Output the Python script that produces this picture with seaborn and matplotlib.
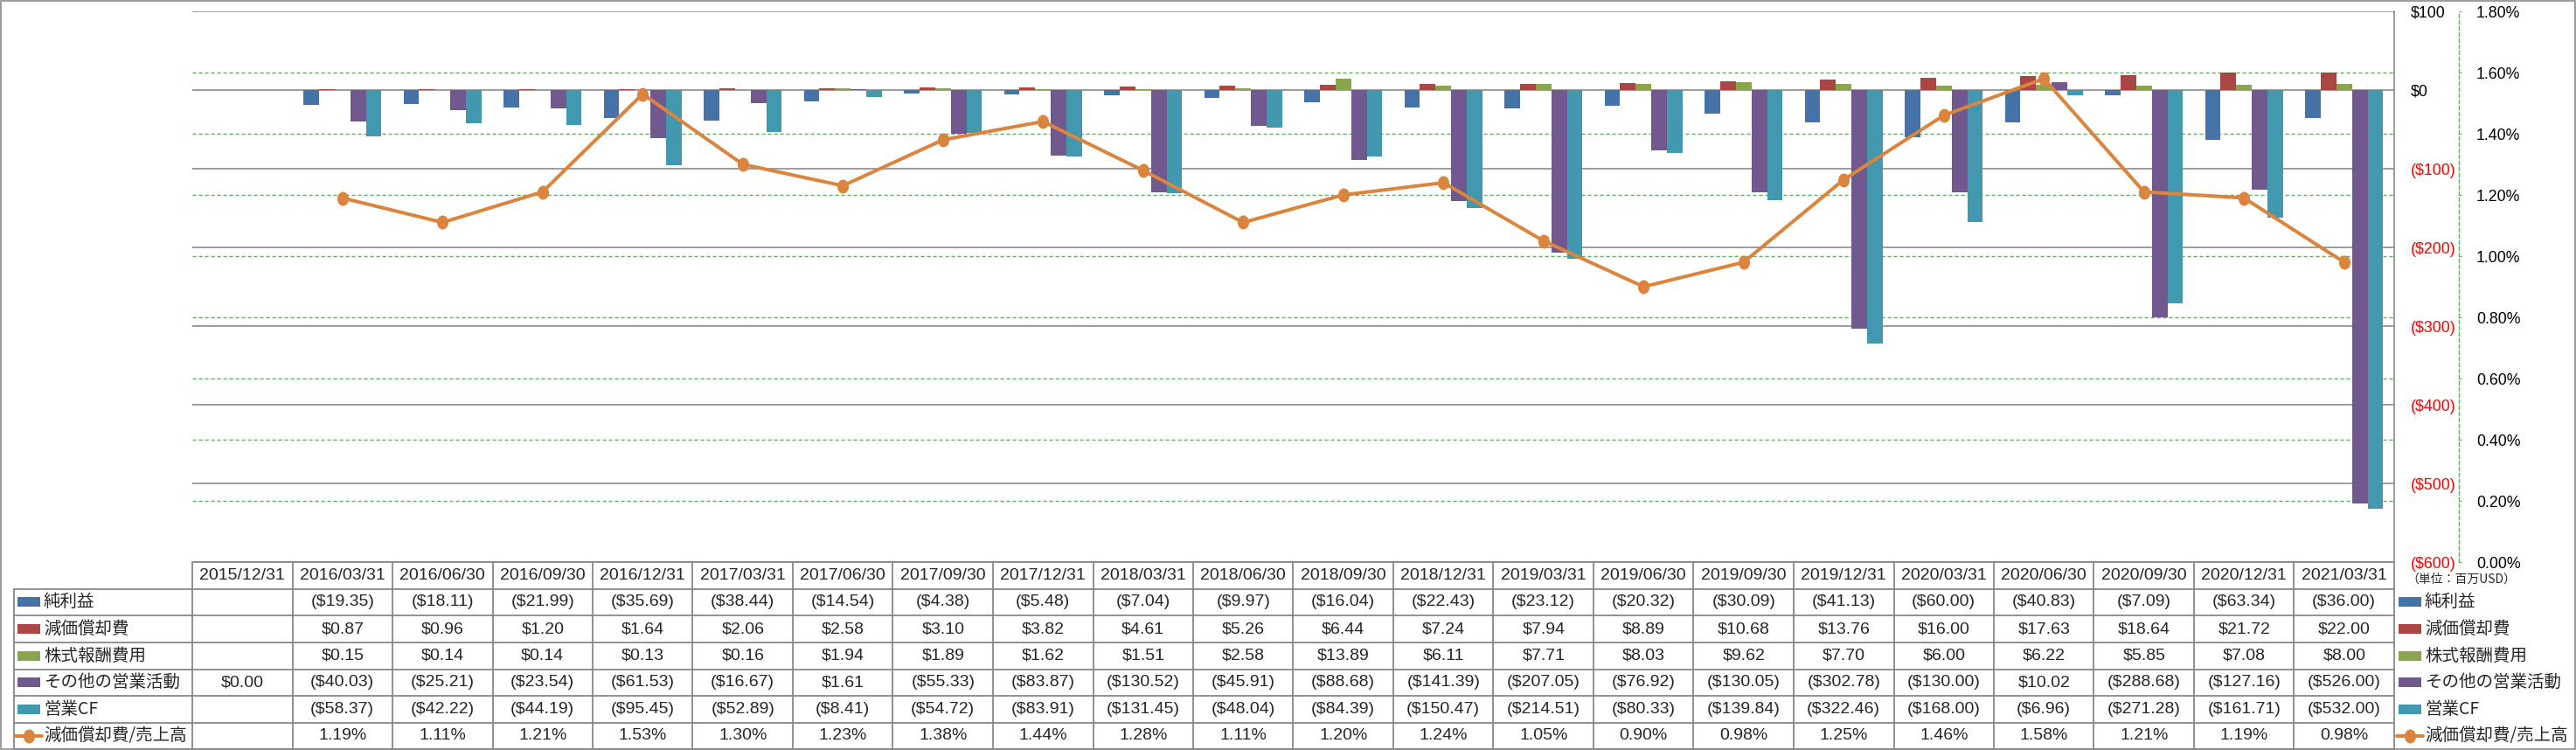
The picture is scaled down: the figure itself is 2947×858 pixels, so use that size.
import numpy as np
import pandas as pd
import matplotlib
matplotlib.use("Agg")
import matplotlib.pyplot as plt
import matplotlib.transforms as mtrans
from matplotlib.patches import Rectangle
from matplotlib.lines import Line2D
from matplotlib.path import Path
from matplotlib.ticker import FixedLocator
import seaborn as sns

# ---------------- data ----------------
dates = ["2015/12/31", "2016/03/31", "2016/06/30", "2016/09/30", "2016/12/31",
         "2017/03/31", "2017/06/30", "2017/09/30", "2017/12/31", "2018/03/31",
         "2018/06/30", "2018/09/30", "2018/12/31", "2019/03/31", "2019/06/30",
         "2019/09/30", "2019/12/31", "2020/03/31", "2020/06/30", "2020/09/30",
         "2020/12/31", "2021/03/31"]

series_names = ["純利益", "減価償却費", "株式報酬費用", "その他の営業活動", "営業CF"]

net_income = [np.nan, -19.35, -18.11, -21.99, -35.69, -38.44, -14.54, -4.38, -5.48,
              -7.04, -9.97, -16.04, -22.43, -23.12, -20.32, -30.09, -41.13, -60.00,
              -40.83, -7.09, -63.34, -36.00]
depreciation = [np.nan, 0.87, 0.96, 1.20, 1.64, 2.06, 2.58, 3.10, 3.82, 4.61, 5.26,
                6.44, 7.24, 7.94, 8.89, 10.68, 13.76, 16.00, 17.63, 18.64, 21.72, 22.00]
stock_comp = [np.nan, 0.15, 0.14, 0.14, 0.13, 0.16, 1.94, 1.89, 1.62, 1.51, 2.58,
              13.89, 6.11, 7.71, 8.03, 9.62, 7.70, 6.00, 6.22, 5.85, 7.08, 8.00]
other_ops = [0.00, -40.03, -25.21, -23.54, -61.53, -16.67, 1.61, -55.33, -83.87,
             -130.52, -45.91, -88.68, -141.39, -207.05, -76.92, -130.05, -302.78,
             -130.00, 10.02, -288.68, -127.16, -526.00]
operating_cf = [np.nan, -58.37, -42.22, -44.19, -95.45, -52.89, -8.41, -54.72, -83.91,
                -131.45, -48.04, -84.39, -150.47, -214.51, -80.33, -139.84, -322.46,
                -168.00, -6.96, -271.28, -161.71, -532.00]
series_values = [net_income, depreciation, stock_comp, other_ops, operating_cf]

ratio_name = "減価償却費/売上高"
ratio_pct = [np.nan, 1.19, 1.11, 1.21, 1.53, 1.30, 1.23, 1.38, 1.44, 1.28, 1.11,
             1.20, 1.24, 1.05, 0.90, 0.98, 1.25, 1.46, 1.58, 1.21, 1.19, 0.98]

usd_ticks = [100, 0, -100, -200, -300, -400, -500, -600]
pct_ticks = [0.0, 0.2, 0.4, 0.6, 0.8, 1.0, 1.2, 1.4, 1.6, 1.8]
unit_label = "（単位：百万USD）"

# ---------------- style ----------------
bar_colors = ["#4572A7", "#AA4643", "#89A54E", "#71588F", "#4198AF"]
line_color = "#DB843D"
gray = "#878787"
green = "#22DD22"

sns.set_theme(style="white")
plt.rcParams["font.family"] = ["Liberation Sans", "Noto Sans CJK JP", "DejaVu Sans"]
CJK = ["Noto Sans CJK JP", "Liberation Sans", "DejaVu Sans"]

W, H, DPI = 2947, 858, 100
PX = 72.0 / DPI  # points per pixel

fig = plt.figure(figsize=(W / DPI, H / DPI), dpi=DPI)
fig.patch.set_facecolor("white")

AX_L, AX_R, AX_T, AX_B = 220, 2739, 13, 643
ax = fig.add_axes([AX_L / W, 1 - AX_B / H, (AX_R - AX_L) / W, (AX_B - AX_T) / H])

# ---------------- bars ----------------
rows = []
for name, vals in zip(series_names, series_values):
    for d, v in zip(dates, vals):
        rows.append((d, name, v))
df = pd.DataFrame(rows, columns=["日付", "系列", "値"]).dropna()

sns.barplot(data=df, x="日付", y="値", hue="系列", order=dates, hue_order=series_names,
            palette=bar_colors, saturation=1, width=0.78, gap=0, errorbar=None,
            linewidth=0, legend=False, ax=ax)

# secondary axis (created before styling primary, since twinx moves ticks left)
ax2 = ax.twinx()

ax.set_xlim(-0.5, len(dates) - 0.5)
ax.set_ylim(-600, 100)
ax.set_xlabel("")
ax.set_ylabel("")
ax.set_xticks([])


def fmt_usd(v):
    if v < 0:
        return "(\\${:,.0f})".format(-v)
    return "\\${:,.0f}".format(v)


def fmt_cell(v):
    if v is None or (isinstance(v, float) and np.isnan(v)):
        return ""
    if v < 0:
        return "(\\${:,.2f})".format(-v)
    return "\\${:,.2f}".format(v)


ax.yaxis.tick_right()
ax.yaxis.set_label_position("right")
ax.set_yticks(usd_ticks)
ax.set_yticklabels([fmt_usd(t) for t in usd_ticks])
ax.tick_params(axis="y", which="major", length=0, pad=19 * PX, labelsize=12.8,
               left=False, labelleft=False, right=True, labelright=True)
for lbl, t in zip(ax.get_yticklabels(), usd_ticks):
    lbl.set_color("#FF0000" if t < 0 else "black")
# secondary (percent) grid drawn behind bars
ax.yaxis.set_minor_locator(FixedLocator([-600 + p / 1.8 * 700 for p in pct_ticks[1:-1]]))
ax.tick_params(axis="y", which="minor", length=0)
ax.grid(True, which="major", axis="y", color=gray, lw=1.6 * PX)
ax.grid(True, which="minor", axis="y", color=green, lw=1.4 * PX, ls=(0, (3, 2)))
ax.set_axisbelow(True)
for s in ["left", "bottom", "top"]:
    ax.spines[s].set_visible(False)
ax.spines["right"].set_color(gray)
ax.spines["right"].set_linewidth(1.6 * PX)

# ---------------- line on secondary axis ----------------
ell = Path.unit_circle().transformed(mtrans.Affine2D().scale(0.82, 1.0))
sns.lineplot(x=np.arange(len(dates)), y=ratio_pct, ax=ax2, color=line_color,
             lw=4 * PX, marker=ell, markersize=16 * PX, markeredgewidth=0,
             markerfacecolor=line_color)
ax2.set_xlim(-0.5, len(dates) - 0.5)
ax2.set_ylim(0, 1.8)
ax2.set_yticks(pct_ticks)
ax2.set_yticklabels(["{:.2f}%".format(p) for p in pct_ticks])
ax2.set_xticks([])
ax2.set_xlabel("")
ax2.set_ylabel("")
ax2.grid(False)
for s in ["left", "bottom", "top"]:
    ax2.spines[s].set_visible(False)
ax2.spines["right"].set_position(("outward", 74 * PX))
ax2.spines["right"].set_color(green)
ax2.spines["right"].set_linestyle((0, (3, 2)))
ax2.spines["right"].set_linewidth(1.4 * PX)
ax2.tick_params(axis="y", length=3 * PX, width=1.2 * PX, color=green, direction="out",
                pad=17 * PX, labelsize=12.8, labelcolor="black")

# ---------------- data table overlay ----------------
ov = fig.add_axes([0, 0, 1, 1], zorder=10)
ov.set_xlim(0, W)
ov.set_ylim(H, 0)
ov.axis("off")
ov.patch.set_alpha(0)
blend = mtrans.blended_transform_factory(ax.transData, ov.transData)

row_edges = [643, 673.5, 704, 735, 765.5, 796, 827, 857]
row_c = [(a + b) / 2 for a, b in zip(row_edges[:-1], row_edges[1:])]
tlw = 1.8 * PX

ov.add_line(Line2D([AX_L, AX_R], [row_edges[0]] * 2, color=gray, lw=tlw))
for y in row_edges[1:]:
    ov.add_line(Line2D([16, AX_R], [y, y], color=gray, lw=tlw))
ov.add_line(Line2D([16, 16], [row_edges[1], row_edges[-1]], color=gray, lw=tlw))
for i in range(len(dates) + 1):
    ov.add_line(Line2D([i - 0.5, i - 0.5], [row_edges[0], row_edges[-1]], color=gray,
                       lw=tlw, transform=blend))

num_fs = 14
for i, d in enumerate(dates):
    ov.text(i, row_c[0], d, transform=blend, ha="center", va="center", fontsize=num_fs)
for r, vals in enumerate(series_values):
    for i, v in enumerate(vals):
        ov.text(i, row_c[r + 1], fmt_cell(v), transform=blend, ha="center",
                va="center", fontsize=num_fs)
for i, v in enumerate(ratio_pct):
    if not np.isnan(v):
        ov.text(i, row_c[6], "{:.2f}%".format(v), transform=blend, ha="center",
                va="center", fontsize=num_fs)

# legend keys (left column of table and right legend)
labels = series_names + [ratio_name]
for key_x, txt_x in [(20, 50), (2744, 2774)]:
    for r, name in enumerate(labels):
        yc = row_c[r + 1]
        if r < len(series_names):
            ov.add_patch(Rectangle((key_x, yc - 5.5), 26, 11, color=bar_colors[r], lw=0))
        else:
            ov.add_line(Line2D([key_x - 2, key_x + 28], [yc, yc], color=line_color,
                               lw=4 * PX))
            ov.add_line(Line2D([key_x + 13], [yc], color=line_color, marker=ell,
                               markersize=16 * PX, markeredgewidth=0, lw=0))
        ov.text(txt_x, yc, name, ha="left", va="center", fontsize=14, family=CJK)

ov.text(2753, 663, unit_label, ha="left", va="center", fontsize=10, family=CJK)

# outer chart border
ov.add_patch(Rectangle((0.8, 0.8), W - 1.6, H - 1.6, fill=False, edgecolor=gray,
                       lw=1.6 * PX))

fig.savefig("out.png", dpi=DPI, facecolor="white")
